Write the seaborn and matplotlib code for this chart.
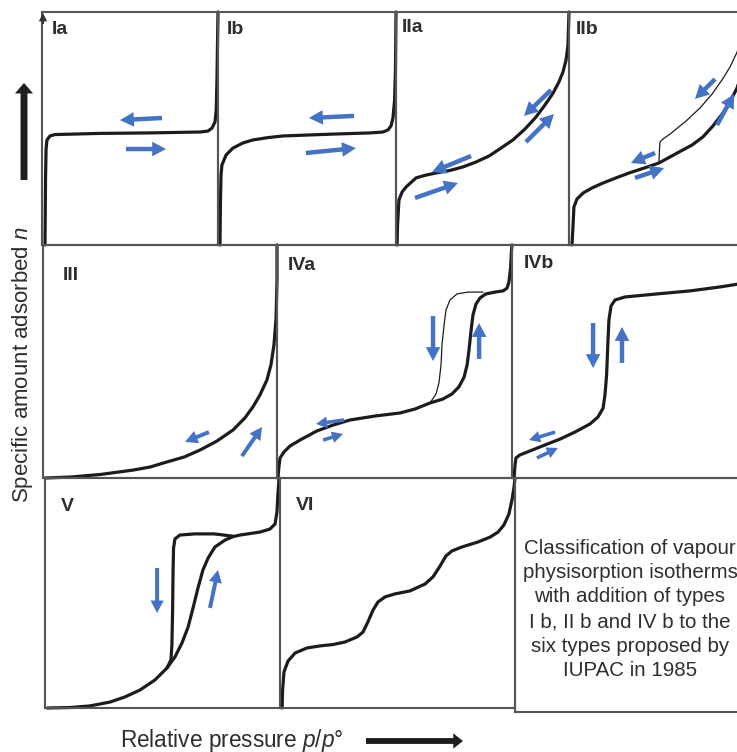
import matplotlib
matplotlib.use("Agg")
import matplotlib.pyplot as plt
import seaborn as sns
from matplotlib.patches import FancyArrowPatch

sns.set_style("white")
plt.rcParams["font.family"] = ["Liberation Sans", "DejaVu Sans"]
plt.rcParams["mathtext.fontset"] = "custom"
plt.rcParams["mathtext.it"] = "Liberation Sans:italic"
plt.rcParams["mathtext.rm"] = "Liberation Sans"

# ---------------- data (x = p/p°, y = relative amount adsorbed, panel-normalised) ----
Ia_x = [0.017, 0.020, 0.023, 0.028, 0.045, 0.074, 0.33, 0.61, 0.90, 0.943, 0.966, 0.983, 0.99, 0.994, 1.0]
Ia_y = [0.0, 0.28, 0.41, 0.45, 0.468, 0.474, 0.479, 0.481, 0.485, 0.489, 0.502, 0.528, 0.58, 0.71, 1.0]

Ib_x = [0.011, 0.014, 0.017, 0.022, 0.045, 0.084, 0.14, 0.197, 0.281, 0.365, 0.646, 0.854, 0.927, 0.955, 0.972, 0.983, 0.992, 0.997, 1.0]
Ib_y = [0.0, 0.193, 0.30, 0.343, 0.386, 0.416, 0.438, 0.451, 0.461, 0.468, 0.476, 0.481, 0.485, 0.494, 0.511, 0.545, 0.622, 0.75, 1.0]

IIa_x = [0.006, 0.009, 0.017, 0.035, 0.058, 0.116, 0.173, 0.231, 0.312, 0.387, 0.462, 0.538, 0.607, 0.676, 0.746, 0.809, 0.861, 0.908, 0.942, 0.965, 0.983, 0.994, 1.0]
IIa_y = [0.0, 0.086, 0.193, 0.227, 0.249, 0.288, 0.30, 0.309, 0.32, 0.335, 0.356, 0.382, 0.416, 0.451, 0.498, 0.549, 0.601, 0.652, 0.70, 0.742, 0.794, 0.858, 1.0]

IIb_ads_x = [0.017, 0.023, 0.028, 0.045, 0.08, 0.131, 0.193, 0.267, 0.341, 0.426, 0.511, 0.574, 0.625, 0.699, 0.761, 0.818, 0.875, 0.92, 0.955, 0.977, 0.994, 1.0]
IIb_ads_y = [0.0, 0.086, 0.163, 0.197, 0.223, 0.245, 0.266, 0.288, 0.309, 0.33, 0.352, 0.378, 0.399, 0.429, 0.464, 0.511, 0.567, 0.622, 0.674, 0.73, 0.815, 1.0]
IIb_des_x = [0.511, 0.514, 0.517, 0.534, 0.574, 0.665, 0.744, 0.813, 0.869, 0.915, 0.955, 0.983]
IIb_des_y = [0.356, 0.408, 0.442, 0.455, 0.476, 0.532, 0.588, 0.648, 0.708, 0.764, 0.828, 0.90]

III_x = [0.009, 0.115, 0.244, 0.385, 0.457, 0.53, 0.603, 0.671, 0.744, 0.812, 0.863, 0.897, 0.927, 0.957, 0.974, 0.987, 0.996, 1.0, 1.0]
III_y = [0.0, 0.004, 0.015, 0.034, 0.047, 0.069, 0.09, 0.12, 0.159, 0.206, 0.258, 0.305, 0.356, 0.421, 0.485, 0.571, 0.687, 0.85, 1.0]

IVa_ads_x = [0.004, 0.009, 0.013, 0.03, 0.055, 0.098, 0.17, 0.238, 0.311, 0.417, 0.523, 0.587, 0.651, 0.706, 0.745, 0.774, 0.796, 0.809, 0.817, 0.826, 0.834, 0.847, 0.864, 0.889, 0.928, 0.962, 0.979, 0.987, 0.994, 0.998, 1.0]
IVa_ads_y = [0.0, 0.056, 0.086, 0.112, 0.137, 0.163, 0.202, 0.227, 0.249, 0.266, 0.279, 0.296, 0.322, 0.339, 0.361, 0.391, 0.433, 0.485, 0.549, 0.635, 0.70, 0.747, 0.773, 0.79, 0.798, 0.803, 0.815, 0.841, 0.901, 0.979, 1.0]
IVa_des_x = [0.651, 0.677, 0.689, 0.698, 0.702, 0.711, 0.719, 0.736, 0.766, 0.813, 0.877]
IVa_des_y = [0.322, 0.361, 0.408, 0.485, 0.571, 0.657, 0.721, 0.764, 0.79, 0.798, 0.798]

IVb_x = [0.009, 0.013, 0.017, 0.034, 0.077, 0.142, 0.206, 0.27, 0.335, 0.369, 0.391, 0.399, 0.406, 0.412, 0.416, 0.425, 0.442, 0.485, 0.622, 0.764, 0.893, 1.0]
IVb_y = [0.0, 0.056, 0.086, 0.099, 0.116, 0.142, 0.167, 0.197, 0.232, 0.262, 0.30, 0.356, 0.442, 0.592, 0.678, 0.738, 0.764, 0.777, 0.79, 0.803, 0.82, 0.837]

V_ads_x = [0.009, 0.106, 0.191, 0.277, 0.34, 0.404, 0.468, 0.519, 0.553, 0.583, 0.609, 0.63, 0.651, 0.672, 0.694, 0.723, 0.766, 0.80, 0.83, 0.915, 0.957, 0.979, 0.987, 0.991, 0.996]
V_ads_y = [0.0, 0.002, 0.009, 0.026, 0.048, 0.078, 0.122, 0.174, 0.222, 0.283, 0.352, 0.435, 0.522, 0.60, 0.652, 0.70, 0.73, 0.745, 0.752, 0.765, 0.778, 0.80, 0.852, 0.926, 1.0]
V_des_x = [0.519, 0.536, 0.54, 0.543, 0.545, 0.547, 0.553, 0.574, 0.638, 0.72, 0.80]
V_des_y = [0.174, 0.209, 0.274, 0.426, 0.60, 0.696, 0.735, 0.752, 0.757, 0.757, 0.747]

VI_x = [0.009, 0.011, 0.017, 0.034, 0.064, 0.115, 0.17, 0.226, 0.277, 0.328, 0.353, 0.374, 0.396, 0.417, 0.447, 0.489, 0.553, 0.617, 0.651, 0.681, 0.706, 0.732, 0.774, 0.843, 0.894, 0.928, 0.953, 0.974, 0.987, 0.996, 1.0]
VI_y = [0.0, 0.078, 0.157, 0.204, 0.239, 0.261, 0.27, 0.276, 0.287, 0.309, 0.33, 0.374, 0.426, 0.461, 0.483, 0.496, 0.509, 0.539, 0.57, 0.617, 0.661, 0.683, 0.70, 0.722, 0.743, 0.765, 0.796, 0.843, 0.904, 0.961, 1.0]

# direction arrows: (tail_x, tail_y, head_x, head_y)
Ia_arrows = [(0.682, 0.545, 0.443, 0.536), (0.477, 0.412, 0.705, 0.412)]
Ib_arrows = [(0.764, 0.554, 0.511, 0.545), (0.494, 0.395, 0.775, 0.416)]
IIa_arrows = [(0.434, 0.382, 0.208, 0.313), (0.11, 0.202, 0.358, 0.266),
              (0.896, 0.665, 0.74, 0.554), (0.751, 0.442, 0.913, 0.562)]
IIb_arrows = [(0.83, 0.712, 0.716, 0.627), (0.841, 0.515, 0.938, 0.648),
              (0.489, 0.395, 0.352, 0.352), (0.375, 0.288, 0.54, 0.33)]
III_arrows = [(0.709, 0.197, 0.607, 0.155), (0.85, 0.094, 0.936, 0.219)]
IVa_arrows = [(0.664, 0.695, 0.664, 0.502), (0.86, 0.511, 0.86, 0.665)]
IVa_small_arrows = [(0.285, 0.249, 0.166, 0.232), (0.196, 0.163, 0.281, 0.189)]
IVb_arrows = [(0.348, 0.665, 0.348, 0.472), (0.472, 0.494, 0.472, 0.648)]
IVb_small_arrows = [(0.185, 0.197, 0.073, 0.163), (0.107, 0.086, 0.197, 0.129)]
V_arrows = [(0.477, 0.609, 0.477, 0.413), (0.702, 0.435, 0.736, 0.60)]

panel_labels = ["Ia", "Ib", "IIa", "IIb", "III", "IVa", "IVb", "V", "VI"]
caption_lines = ["Classification of vapour", "physisorption isotherms",
                 "with addition of types", "I b, II b and IV b to the",
                 "six types proposed by", "IUPAC in 1985"]
y_label = "Specific amount adsorbed $n$"
x_label = "Relative pressure $p$/$p$°"

# ---------------- styling ----------------
W, H = 737, 752
BLUE = "#4472C4"
INK = "#1c1c1c"
FRAME = "#555555"
TXT = "#2e2e2e"

fig = plt.figure(figsize=(W / 100, H / 100), dpi=100)
fig.patch.set_facecolor("white")


def panel(x0, x1, y0, y1):
    ax = fig.add_axes([x0 / W, 1 - y1 / H, (x1 - x0) / W, (y1 - y0) / H])
    ax.set_xlim(0, 1)
    ax.set_ylim(0, 1)
    ax.set_xticks([])
    ax.set_yticks([])
    ax.set_facecolor("none")
    for s in ax.spines.values():
        s.set_color(FRAME)
        s.set_linewidth(1.5)
    return ax


def curve(ax, xs, ys, lw=2.3):
    sns.lineplot(x=xs, y=ys, ax=ax, sort=False, estimator=None, color=INK,
                 lw=lw, clip_on=False, solid_capstyle="round", solid_joinstyle="round")


def arrows(ax, lst, scale=10):
    for tx, ty, hx, hy in lst:
        ax.annotate("", xy=(hx, hy), xytext=(tx, ty),
                    arrowprops=dict(arrowstyle="simple,head_length=1.0,head_width=1.05,tail_width=0.32",
                                    fc=BLUE, ec="none", lw=0, mutation_scale=scale,
                                    shrinkA=0, shrinkB=0))


def label(ax, px, py, txt, x0, x1, y0, y1):
    ax.text((px - x0) / (x1 - x0), (y1 - py) / (y1 - y0), txt, fontsize=14,
            fontweight="bold", color=TXT, ha="left", va="center")


boxes = {
    "Ia": (42, 218, 12, 245), "Ib": (218, 396, 12, 245),
    "IIa": (396, 569, 12, 245), "IIb": (569, 745, 12, 245),
    "III": (43, 277, 245, 478), "IVa": (277, 512, 245, 478),
    "IVb": (512, 745, 245, 478),
    "V": (45, 280, 478, 708), "VI": (280, 515, 478, 708),
}
label_pos = {"Ia": (52, 29), "Ib": (227, 29), "IIa": (402, 28), "IIb": (576, 29),
             "III": (63, 276), "IVa": (288, 266), "IVb": (524, 264),
             "V": (61, 506), "VI": (296, 505)}

axes = {k: panel(*v) for k, v in boxes.items()}

curve(axes["Ia"], Ia_x, Ia_y)
arrows(axes["Ia"], Ia_arrows)
curve(axes["Ib"], Ib_x, Ib_y)
arrows(axes["Ib"], Ib_arrows)
curve(axes["IIa"], IIa_x, IIa_y)
arrows(axes["IIa"], IIa_arrows)
curve(axes["IIb"], IIb_ads_x, IIb_ads_y)
curve(axes["IIb"], IIb_des_x, IIb_des_y, lw=0.9)
arrows(axes["IIb"], IIb_arrows)
curve(axes["III"], III_x, III_y)
arrows(axes["III"], III_arrows, scale=9)
curve(axes["IVa"], IVa_ads_x, IVa_ads_y)
curve(axes["IVa"], IVa_des_x, IVa_des_y, lw=0.9)
arrows(axes["IVa"], IVa_arrows)
arrows(axes["IVa"], IVa_small_arrows, scale=8)
curve(axes["IVb"], IVb_x, IVb_y)
arrows(axes["IVb"], IVb_arrows)
arrows(axes["IVb"], IVb_small_arrows, scale=8)
curve(axes["V"], V_ads_x, V_ads_y)
curve(axes["V"], V_des_x, V_des_y)
arrows(axes["V"], V_arrows, scale=9)
curve(axes["VI"], VI_x, VI_y)

for name in panel_labels:
    x0, x1, y0, y1 = boxes[name]
    px, py = label_pos[name]
    label(axes[name], px, py, name, x0, x1, y0, y1)

# caption box
cap = panel(515, 745, 478, 712)
for i, line in enumerate(caption_lines):
    py = 548 + i * 24.5
    cap.text(0.5, (712 - py) / (712 - 478), line, fontsize=14.8, color=TXT,
             ha="center", va="center")

# axis labels and arrows
fig.text(23 / W, 1 - 365 / H, y_label, rotation=90, fontsize=16, color=TXT,
         ha="center", va="center")
fig.text(120 / W, 1 - 740 / H, x_label, fontsize=16.3, color=TXT,
         ha="left", va="center")
fig.add_artist(FancyArrowPatch((24 / W, 1 - 180 / H), (24 / W, 1 - 83 / H),
                               transform=fig.transFigure,
                               arrowstyle="simple,head_length=0.75,head_width=1.3,tail_width=0.5",
                               mutation_scale=10, lw=0, fc="#1e1e1e", ec="none",
                               shrinkA=0, shrinkB=0))
fig.add_artist(FancyArrowPatch((366 / W, 1 - 741 / H), (463 / W, 1 - 741 / H),
                               transform=fig.transFigure,
                               arrowstyle="simple,head_length=0.7,head_width=1.1,tail_width=0.42",
                               mutation_scale=10, lw=0, fc="#1e1e1e", ec="none",
                               shrinkA=0, shrinkB=0))
# small tip on the top-left frame corner
fig.add_artist(FancyArrowPatch((43 / W, 1 - 24 / H), (43 / W, 1 - 13 / H),
                               transform=fig.transFigure,
                               arrowstyle="simple,head_length=0.6,head_width=0.6,tail_width=0.15",
                               mutation_scale=10, lw=0, fc="#333333", ec="none",
                               shrinkA=0, shrinkB=0))

fig.savefig("out.png", dpi=100)
